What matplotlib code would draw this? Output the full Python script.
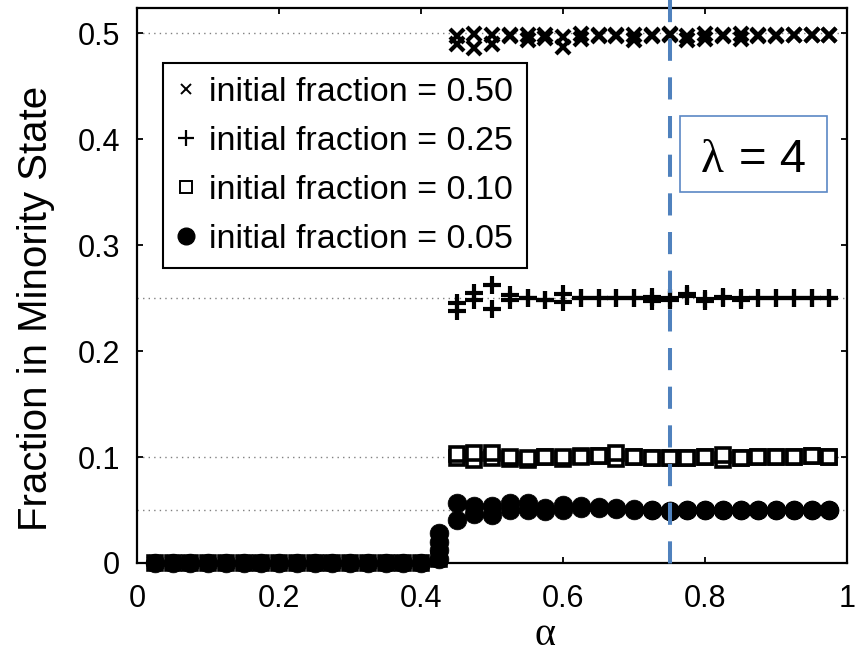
import matplotlib
matplotlib.use('Agg')
import matplotlib.pyplot as plt
from matplotlib.lines import Line2D
from matplotlib.patches import Rectangle
import matplotlib.transforms as mtransforms

plt.rcParams['font.family'] = ['Liberation Sans', 'DejaVu Sans']

# alpha grid
alpha_low = [0.025, 0.05, 0.075, 0.1, 0.125, 0.15, 0.175, 0.2, 0.225, 0.25,
             0.275, 0.3, 0.325, 0.35, 0.375, 0.4, 0.425]
alpha_high = [0.45, 0.475, 0.5, 0.525, 0.55, 0.575, 0.6, 0.625, 0.65, 0.675, 0.7,
              0.725, 0.75, 0.775, 0.8, 0.825, 0.85, 0.875, 0.9, 0.925, 0.95, 0.975]

# below the threshold every run ends at zero
low_vals = [0, 0, 0, 0, 0, 0, 0, 0, 0, 0, 0, 0, 0, 0, 0, 0, 0.004]
# extra runs at alpha = 0.425 (fraction 0.05)
extra_x = [0.425, 0.425, 0.425]
extra_y = [0.012, 0.02, 0.028]

# two runs per initial fraction above the threshold
f50_a = [0.497, 0.499, 0.498, 0.498, 0.498, 0.498, 0.496, 0.499, 0.498, 0.498, 0.498,
         0.498, 0.499, 0.497, 0.499, 0.498, 0.499, 0.498, 0.498, 0.498, 0.498, 0.498]
f50_b = [0.490, 0.486, 0.490, 0.497, 0.493, 0.495, 0.487, 0.494, 0.497, 0.497, 0.493,
         0.497, 0.498, 0.493, 0.494, 0.497, 0.494, 0.497, 0.497, 0.498, 0.498, 0.498]
f25_a = [0.245, 0.255, 0.262, 0.253, 0.250, 0.248, 0.254, 0.250, 0.250, 0.250, 0.250,
         0.251, 0.250, 0.254, 0.247, 0.251, 0.248, 0.250, 0.250, 0.250, 0.250, 0.250]
f25_b = [0.238, 0.248, 0.240, 0.248, 0.250, 0.248, 0.246, 0.250, 0.250, 0.250, 0.250,
         0.247, 0.248, 0.252, 0.249, 0.250, 0.250, 0.250, 0.250, 0.250, 0.250, 0.250]
f10_a = [0.103, 0.104, 0.104, 0.100, 0.099, 0.100, 0.100, 0.100, 0.101, 0.104, 0.100,
         0.099, 0.099, 0.099, 0.100, 0.102, 0.099, 0.100, 0.100, 0.100, 0.101, 0.100]
f10_b = [0.099, 0.097, 0.099, 0.098, 0.097, 0.100, 0.098, 0.101, 0.101, 0.098, 0.100,
         0.099, 0.099, 0.099, 0.100, 0.097, 0.099, 0.100, 0.100, 0.100, 0.101, 0.100]
f05_a = [0.057, 0.054, 0.054, 0.057, 0.057, 0.052, 0.055, 0.054, 0.053, 0.052, 0.051,
         0.050, 0.049, 0.050, 0.050, 0.050, 0.050, 0.050, 0.050, 0.050, 0.050, 0.050]
f05_b = [0.041, 0.046, 0.045, 0.050, 0.050, 0.049, 0.050, 0.052, 0.052, 0.051, 0.050,
         0.050, 0.049, 0.050, 0.050, 0.050, 0.050, 0.050, 0.050, 0.050, 0.050, 0.050]

init_fracs = [0.50, 0.25, 0.10, 0.05]
labels = ['initial fraction = 0.50', 'initial fraction = 0.25',
          'initial fraction = 0.10', 'initial fraction = 0.05']
lam_value = 4
alpha_line = 0.75

fig = plt.figure(figsize=(8.63, 6.53), dpi=100)
ax = fig.add_axes([137/863, 90/653, 710/863, 555/653])

# dotted reference levels
for f in init_fracs:
    ax.axhline(f, color='#808080', ls=(0, (1, 3)), lw=1.0, zorder=1)

styles = [
    dict(marker='x', ms=9.5, mew=3.0, mfc='none'),
    dict(marker='+', ms=12.5, mew=3.0, mfc='none'),
    dict(marker='s', ms=10, mew=2.6, mfc='white'),
    dict(marker='o', ms=13.5, mew=0.5, mfc='black'),
]
series = [(f50_a, f50_b), (f25_a, f25_b), (f10_a, f10_b), (f05_a, f05_b)]

for st, (ra, rb) in zip(styles, series):
    ax.plot(alpha_low, low_vals, ls='none', mec='black', zorder=3, clip_on=False, **st)
    ax.plot(alpha_high, rb, ls='none', mec='black', zorder=3, clip_on=False, **st)
    ax.plot(alpha_high, ra, ls='none', mec='black', zorder=3, clip_on=False, **st)
ax.plot(extra_x, extra_y, ls='none', mec='black', zorder=3, clip_on=False, **styles[3])

ax.set_xlim(0, 1)
ax.set_ylim(0, 0.5236)
ax.set_xticks([0, 0.2, 0.4, 0.6, 0.8, 1])
ax.set_xticklabels(['0', '0.2', '0.4', '0.6', '0.8', '1'])
ax.set_yticks([0, 0.1, 0.2, 0.3, 0.4, 0.5])
ax.set_yticklabels(['0', '0.1', '0.2', '0.3', '0.4', '0.5'])
ax.tick_params(direction='in', length=4, width=1.3, top=True, right=True, labelsize=22)
ax.tick_params(axis='x', pad=15)
ax.tick_params(axis='y', pad=12)
for s in ax.spines.values():
    s.set_linewidth(1.6)

ax.set_ylabel('Fraction in Minority State', fontsize=29)
ax.yaxis.set_label_coords(-0.115, 0.458)
ax.set_xlabel('α', fontsize=29, family=['Liberation Serif', 'DejaVu Serif'])
ax.xaxis.set_label_coords(0.575, -0.098)

# legend handles with smaller markers
handles = [
    Line2D([], [], ls='none', marker='x', ms=6.5, mew=1.4, color='black'),
    Line2D([], [], ls='none', marker='+', ms=11, mew=1.6, color='black'),
    Line2D([], [], ls='none', marker='s', ms=9, mew=1.4, mec='black', mfc='white'),
    Line2D([], [], ls='none', marker='o', ms=12, color='black'),
]
leg = ax.legend(handles, labels, loc='upper left', bbox_to_anchor=(0.0366, 0.901),
                borderaxespad=0, fontsize=24.5, frameon=True, fancybox=False,
                handlelength=0.55, handletextpad=0.4, labelspacing=0.53,
                borderpad=0.4, framealpha=1)
leg.get_frame().set_edgecolor('black')
leg.get_frame().set_linewidth(1.5)

# blue dashed marker line at alpha = 0.75
trans = mtransforms.blended_transform_factory(ax.transData, ax.transAxes)
ax.plot([alpha_line, alpha_line], [1.015, -0.017], transform=trans, color='#4f81bd',
        lw=2.9, ls=(0, (5.5, 4.1)), clip_on=False, zorder=5)

# lambda box
fig.patches.append(Rectangle((680/863, 461/653), 147/863, 76/653, transform=fig.transFigure,
                             fill=True, facecolor='white', edgecolor='#5b87c5', lw=1.2,
                             zorder=6))
fig.text(712/863, (653-172)/653, 'λ', fontsize=34,
         family=['Liberation Serif', 'DejaVu Serif'], ha='center', va='baseline', zorder=7)
fig.text(772/863, (653-172)/653, '= %d' % lam_value, fontsize=34, ha='center',
         va='baseline', zorder=7)

fig.savefig('out.png', dpi=100)
